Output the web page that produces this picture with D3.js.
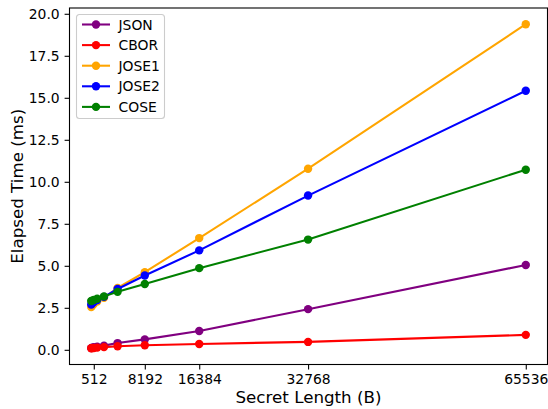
<!DOCTYPE html>
<html>
<head>
<meta charset="utf-8">
<script src="https://cdn.jsdelivr.net/npm/d3@7"></script>
<style>
  body { margin: 0; background: #fff; }
  svg { display: block; font-family: "DejaVu Sans", sans-serif; }
</style>
</head>
<body>
<svg id="chart" width="548" height="409"></svg>
<script>
const secretLengths = [128, 256, 512, 1024, 2048, 4096, 8192, 16384, 32768, 65536];
const xTickValues = [512, 8192, 16384, 32768, 65536];
const yTickValues = [0, 2.5, 5, 7.5, 10, 12.5, 15, 17.5, 20];

const jsonTimes  = [0.10, 0.12, 0.15, 0.18, 0.25, 0.40, 0.62, 1.12, 2.42, 5.05];
const cborTimes  = [0.09, 0.10, 0.11, 0.13, 0.16, 0.21, 0.27, 0.35, 0.47, 0.89];
const jose1Times = [2.55, 2.62, 2.72, 2.88, 3.10, 3.68, 4.62, 6.65, 10.78, 19.38];
const jose2Times = [2.70, 2.76, 2.85, 2.96, 3.15, 3.62, 4.42, 5.92, 9.18, 15.42];
const coseTimes  = [2.90, 2.93, 2.97, 3.04, 3.18, 3.45, 3.92, 4.86, 6.56, 10.72];

const seriesNames = ['JSON', 'CBOR', 'JOSE1', 'JOSE2', 'COSE'];
const seriesColors = ['purple', 'red', 'orange', 'blue', 'green'];
const seriesValues = [jsonTimes, cborTimes, jose1Times, jose2Times, coseTimes];

const svg = d3.select('#chart');
const mLeft = 69.5, mRight = 547.5, mTop = 8, mBottom = 364.5;

// matplotlib style 5% margins
const xMin = d3.min(secretLengths), xMax = d3.max(secretLengths);
const xPad = (xMax - xMin) * 0.05;
const allY = seriesValues.flat();
const yMin = d3.min(allY), yMax = d3.max(allY);
const yPad = (yMax - yMin) * 0.05;

const x = d3.scaleLinear().domain([xMin - xPad, xMax + xPad]).range([mLeft, mRight]);
const y = d3.scaleLinear().domain([yMin - yPad, yMax + yPad]).range([mBottom, mTop]);

const xAxis = svg.append('g').attr('transform', `translate(0,${mBottom})`)
  .call(d3.axisBottom(x).tickValues(xTickValues).tickFormat(d3.format('d')).tickSizeOuter(0).tickSize(4.9).tickPadding(4.9));
const yAxis = svg.append('g').attr('transform', `translate(${mLeft},0)`)
  .call(d3.axisLeft(y).tickValues(yTickValues).tickFormat(d3.format('.1f')).tickSizeOuter(0).tickSize(4.9).tickPadding(4.9));
[xAxis, yAxis].forEach(a => {
  a.select('.domain').remove();
  a.selectAll('line').attr('stroke', '#000').attr('stroke-width', 1.1);
  a.selectAll('text').attr('fill', '#000').attr('font-size', '13.9px').attr('font-family', '"DejaVu Sans", sans-serif');
});

const lineGen = d3.line().x((d, i) => x(secretLengths[i])).y(d => y(d));
seriesValues.forEach((vals, k) => {
  const grp = svg.append('g');
  grp.append('path').datum(vals).attr('d', lineGen)
    .attr('fill', 'none').attr('stroke', seriesColors[k]).attr('stroke-width', 2.08);
  grp.selectAll('circle').data(vals).enter().append('circle')
    .attr('cx', (d, i) => x(secretLengths[i])).attr('cy', d => y(d))
    .attr('r', 4.2).attr('fill', seriesColors[k]);
});

// frame
svg.append('rect').attr('x', mLeft).attr('y', mTop)
  .attr('width', mRight - mLeft).attr('height', mBottom - mTop)
  .attr('fill', 'none').attr('stroke', '#000').attr('stroke-width', 1.1);

svg.append('text').attr('x', (mLeft + mRight) / 2).attr('y', 403)
  .attr('text-anchor', 'middle').attr('font-size', '16.7px').text('Secret Length (B)');
svg.append('text').attr('transform', `translate(23,${(mTop + mBottom) / 2}) rotate(-90)`)
  .attr('text-anchor', 'middle').attr('font-size', '16.7px').text('Elapsed Time (ms)');

// legend
const legend = svg.append('g').attr('transform', 'translate(76.5,14.5)');
legend.append('rect').attr('width', 88).attr('height', 104).attr('rx', 3)
  .attr('fill', '#fff').attr('fill-opacity', 0.8).attr('stroke', '#ccc').attr('stroke-width', 1.1);
seriesNames.forEach((name, k) => {
  const ly = 10 + k * 20.6;
  legend.append('line').attr('x1', 5.5).attr('x2', 33.5).attr('y1', ly).attr('y2', ly)
    .attr('stroke', seriesColors[k]).attr('stroke-width', 2.08);
  legend.append('circle').attr('cx', 19.5).attr('cy', ly).attr('r', 4.2).attr('fill', seriesColors[k]);
  legend.append('text').attr('x', 42).attr('y', ly).attr('dy', '0.36em')
    .attr('font-size', '13.9px').text(name);
});
</script>
</body>
</html>
